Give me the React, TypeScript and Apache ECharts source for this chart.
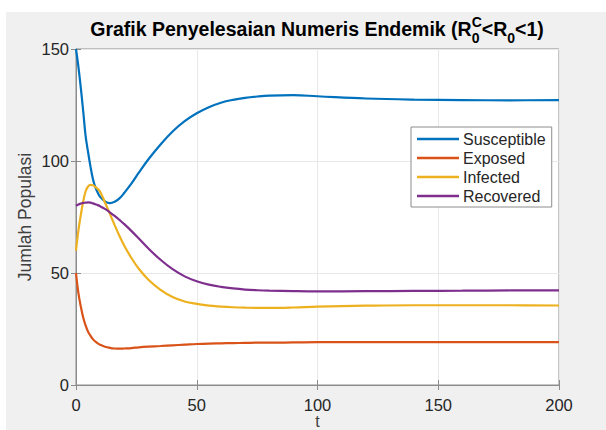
import React, { useEffect, useRef } from "react";
import * as echarts from "echarts";

const T = [0, 1, 2, 3, 4, 5, 6, 7, 8, 9, 10, 12, 14, 16, 18, 20, 23, 26, 30, 35, 40, 45, 50, 55, 60, 65, 70, 75, 80, 90, 100, 120, 140, 160, 180, 200];
const susceptible = [150, 142, 132.5, 122, 111, 104, 97.5, 92, 88.3, 85.8, 84, 82, 81.2, 81.8, 83.3, 85.8, 90, 94.8, 100.8, 107.4, 113.2, 117.8, 121.3, 124, 126, 127.3, 128.2, 128.8, 129.2, 129.4, 128.9, 127.9, 127.4, 127.2, 127.1, 127.2];
const exposed = [50, 41, 35, 30, 26.5, 23.8, 22, 20.5, 19.4, 18.6, 18, 17.1, 16.6, 16.3, 16.2, 16.3, 16.5, 16.8, 17.1, 17.4, 17.7, 18, 18.3, 18.5, 18.6, 18.7, 18.8, 18.9, 18.9, 19, 19.1, 19.1, 19.1, 19.1, 19.1, 19.1];
const infected = [60, 69, 76, 82, 86.5, 88.6, 89.3, 89.2, 88.4, 87.5, 86.3, 81.5, 76.5, 71.4, 66.5, 62.2, 56.6, 51.9, 47, 42.5, 39.3, 37.3, 36.2, 35.4, 35, 34.7, 34.5, 34.4, 34.4, 34.6, 35, 35.4, 35.6, 35.6, 35.6, 35.5];
const recovered = [80, 80.6, 81, 81.3, 81.4, 81.5, 81.4, 81.1, 80.7, 80.3, 79.8, 78.6, 77.1, 75.5, 73.7, 71.8, 68.7, 65.4, 60.9, 55.9, 51.7, 48.5, 46.3, 44.8, 43.8, 43.1, 42.6, 42.3, 42.1, 41.9, 41.8, 41.9, 42, 42.1, 42.2, 42.2];

const seriesNames = ["Susceptible", "Exposed", "Infected", "Recovered"];
const seriesValues = [susceptible, exposed, infected, recovered];
const colors = ["#0072BD", "#D95319", "#EDB120", "#7E2F8E"];

const xTicks = { min: 0, max: 200, interval: 50 };
const yTicks = { min: 0, max: 150, interval: 50 };

const FONT = '"Liberation Sans", Arial, Helvetica, sans-serif';

function measure(text: string, font: string): number {
  const c = document.createElement("canvas").getContext("2d");
  if (!c) return text.length * 9;
  c.font = font;
  return c.measureText(text).width;
}

export default function App() {
  const ref = useRef<HTMLDivElement>(null);
  useEffect(() => {
    document.body.style.margin = "0";
    if (!ref.current) return;
    const chart = echarts.init(ref.current, null, { renderer: "svg" });

    const mainSize = 19.5;
    const scriptSize = 14;
    const mainFont = `bold ${mainSize}px "Liberation Sans"`;
    const scriptFont = `bold ${scriptSize}px "Liberation Sans"`;
    const p1 = "Grafik Penyelesaian Numeris Endemik (R";
    const p2 = "<R";
    const p3 = "<1)";
    const w1 = measure(p1, mainFont);
    const wC = Math.max(measure("C", scriptFont), measure("0", scriptFont));
    const w2 = measure(p2, mainFont);
    const w0 = measure("0", scriptFont);
    const w3 = measure(p3, mainFont);
    const total = w1 + wC + w2 + w0 + w3;
    const cx = 317;
    const baseY = 39;
    const supY = 29;
    const subY = 45;
    const titleEls: any[] = [];
    const mk = (text: string, x: number, y: number, size: number) => ({
      type: "text",
      x,
      y,
      style: {
        text,
        fontFamily: FONT,
        fontWeight: "bold",
        fontSize: size,
        fill: "#000",
        align: "left",
        verticalAlign: "bottom",
      },
      z: 10,
    });
    let cur = cx - total / 2;
    titleEls.push(mk(p1, cur, baseY, mainSize));
    cur += w1;
    titleEls.push(mk("C", cur, supY, scriptSize));
    titleEls.push(mk("0", cur, subY, scriptSize));
    cur += wC;
    titleEls.push(mk(p2, cur, baseY, mainSize));
    cur += w2;
    titleEls.push(mk("0", cur, subY, scriptSize));
    cur += w0;
    titleEls.push(mk(p3, cur, baseY, mainSize));

    const axisLineStyle = { color: "#8c8c8c", width: 1 };
    const tickStyle = { show: true, inside: true, length: 5, lineStyle: { color: "#8c8c8c" } };

    const option: any = {
      animation: false,
      backgroundColor: "#ffffff",
      textStyle: { fontFamily: FONT },
      graphic: {
        elements: [
          {
            type: "rect",
            shape: { x: 6, y: 12, width: 600, height: 418 },
            style: { fill: "#f0f0f0" },
            z: -100,
            silent: true,
          },
          ...titleEls,
        ],
      },
      grid: {
        left: 76,
        top: 49,
        right: 47,
        bottom: 45,
        outerBoundsMode: "none",
        containLabel: false,
        show: true,
        backgroundColor: "#ffffff",
        borderColor: "#8c8c8c",
        borderWidth: 1,
      },
      legend: {
        show: true,
        orient: "vertical",
        left: 411,
        top: 127,
        data: seriesNames,
        icon: "rect",
        itemWidth: 42,
        itemHeight: 2.5,
        itemGap: 3,
        padding: [4, 6, 3, 6],
        backgroundColor: "#ffffff",
        borderColor: "#8c8c8c",
        borderWidth: 1,
        borderRadius: 0,
        textStyle: { fontSize: 16, color: "#262626", fontFamily: FONT, padding: [0, 0, 0, -1] },
        selectedMode: false,
      },
      xAxis: [
        {
          type: "value",
          min: xTicks.min,
          max: xTicks.max,
          interval: xTicks.interval,
          position: "bottom",
          name: "t",
          nameLocation: "middle",
          nameGap: 28,
          nameMoveOverlap: false,
          nameTextStyle: { fontSize: 16, color: "#404040", fontFamily: FONT },
          axisLine: { show: true, lineStyle: axisLineStyle },
          axisTick: tickStyle,
          axisLabel: { fontSize: 16.5, color: "#262626", margin: 11, fontFamily: FONT },
          splitLine: { show: true, lineStyle: { color: "#e8e8e8", width: 1 } },
        },
        {
          type: "value",
          min: xTicks.min,
          max: xTicks.max,
          interval: xTicks.interval,
          position: "top",
          axisLine: { show: true, lineStyle: axisLineStyle },
          axisTick: tickStyle,
          axisLabel: { show: false },
          splitLine: { show: false },
        },
      ],
      yAxis: [
        {
          type: "value",
          min: yTicks.min,
          max: yTicks.max,
          interval: yTicks.interval,
          position: "left",
          name: "Jumlah Populasi",
          nameLocation: "middle",
          nameGap: 42,
          nameMoveOverlap: false,
          nameRotate: 90,
          nameTextStyle: { fontSize: 17.5, color: "#404040", fontFamily: FONT },
          axisLine: { show: true, lineStyle: axisLineStyle },
          axisTick: tickStyle,
          axisLabel: { fontSize: 16.5, color: "#262626", margin: 7, fontFamily: FONT },
          splitLine: { show: true, lineStyle: { color: "#e8e8e8", width: 1 } },
        },
        {
          type: "value",
          min: yTicks.min,
          max: yTicks.max,
          interval: yTicks.interval,
          position: "right",
          axisLine: { show: true, lineStyle: axisLineStyle },
          axisTick: tickStyle,
          axisLabel: { show: false },
          splitLine: { show: false },
        },
      ],
      series: seriesNames.map((name, i) => ({
        name,
        type: "line",
        xAxisIndex: 0,
        yAxisIndex: 0,
        data: T.map((t, j) => [t, seriesValues[i][j]]),
        smooth: 0.4,
        symbol: "none",
        showSymbol: false,
        color: colors[i],
        itemStyle: { color: colors[i] },
        lineStyle: { color: colors[i], width: 2.2 },
        z: 3,
      })),
    };
    chart.setOption(option);
    return () => chart.dispose();
  }, []);
  return <div ref={ref} style={{ width: 606, height: 430 }} />;
}
